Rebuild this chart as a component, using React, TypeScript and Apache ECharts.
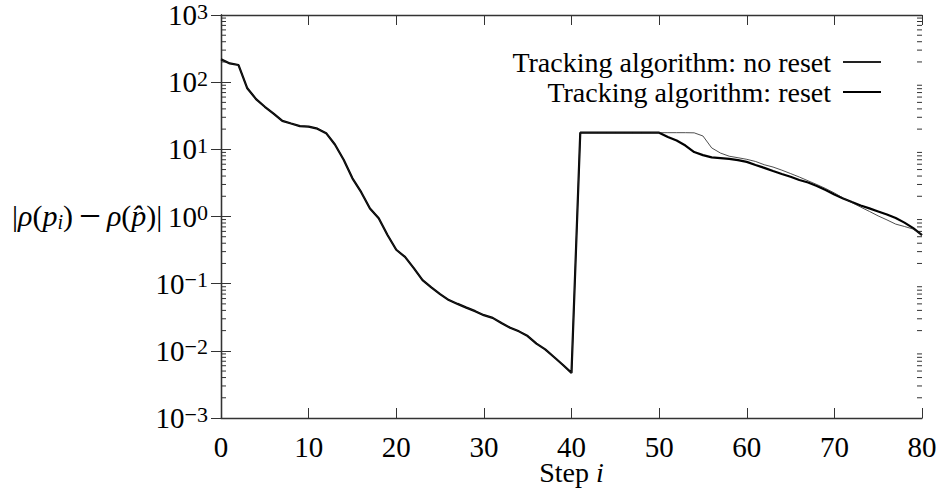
import React, { useEffect, useRef } from "react";
import * as echarts from "echarts";

const FONT = "Liberation Serif";

// Step index 0..80
const steps: number[] = Array.from({ length: 81 }, (_, i) => i);

// Shared part of both runs (steps 0..49)
const commonVals: number[] = [
  219, 190, 180, 81, 56, 43, 34, 26.5, 24.2, 22.2,
  21.8, 20.3, 17.4, 11.8, 7.0, 3.7, 2.3, 1.32, 0.94, 0.53,
  0.32, 0.25, 0.17, 0.113, 0.088, 0.07, 0.057, 0.05, 0.044, 0.039,
  0.034, 0.031, 0.026, 0.022, 0.0195, 0.0166, 0.0128, 0.0105, 0.0081, 0.0062,
  0.0047, 17.7, 17.7, 17.7, 17.7, 17.7, 17.7, 17.7, 17.7, 17.7,
];

// Steps 50..80
const noResetTail: number[] = [
  17.7, 17.7, 17.7, 17.7, 17.6, 15.8, 10.5, 8.8, 7.9, 7.5,
  7.1, 6.6, 5.9, 5.45, 4.9, 4.36, 3.87, 3.4, 2.99, 2.61,
  2.24, 1.88, 1.61, 1.38, 1.19, 1.02, 0.89, 0.77, 0.71, 0.65,
  0.53,
];
const resetTail: number[] = [
  17.7, 15.3, 13.5, 11.4, 9.1, 8.2, 7.6, 7.4, 7.2, 6.9,
  6.5, 5.85, 5.3, 4.75, 4.3, 3.9, 3.5, 3.2, 2.85, 2.48,
  2.13, 1.85, 1.64, 1.46, 1.32, 1.19, 1.07, 0.95, 0.81, 0.67,
  0.53,
];

const noResetVals = [...commonVals, ...noResetTail];
const resetVals = [...commonVals, ...resetTail];

const seriesNames = ["Tracking algorithm: no reset", "Tracking algorithm: reset"];

const xTickStep = 10;
const xMin = 0;
const xMax = 80;
const yMin = 0.001;
const yMax = 1000;

// Log minor tick mantissas and decades
const minorMantissas = [2, 3, 4, 5, 6, 7, 8, 9];
const decades = [0.001, 0.01, 0.1, 1, 10, 100];

export default function App() {
  const ref = useRef<HTMLDivElement>(null);

  useEffect(() => {
    if (!ref.current) return;
    const chart = echarts.init(ref.current, undefined, { renderer: "svg" });

    const minorVals: number[][] = [];
    decades.forEach((d) => minorMantissas.forEach((m) => minorVals.push([xMin, m * d])));

    const axisLine = { show: true, lineStyle: { color: "#333", width: 1.3 } };
    const tickStyle = { color: "#333", width: 1 };

    const option: any = {
      animation: false,
      backgroundColor: "#fff",
      textStyle: { fontFamily: FONT, color: "#000" },
      grid: {
        left: 221,
        right: 16,
        top: 15,
        bottom: 74,
        containLabel: false,
        outerBoundsMode: "none",
      },
      legend: {
        orient: "vertical",
        right: 56,
        top: 48,
        padding: 0,
        align: "right",
        itemWidth: 38,
        itemHeight: 14,
        itemGap: 2,
        data: seriesNames,
        itemStyle: { opacity: 0 },
        textStyle: { fontFamily: FONT, fontSize: 28, color: "#000", padding: [0, 7, 0, 0] },
        inactiveColor: "#000",
        selectedMode: false,
      },
      xAxis: [
        {
          type: "value",
          min: xMin,
          max: xMax,
          interval: xTickStep,
          position: "bottom",
          axisLine,
          axisTick: { show: true, inside: true, length: 10, lineStyle: tickStyle },
          splitLine: { show: false },
          axisLabel: {
            fontFamily: FONT,
            fontSize: 29,
            lineHeight: 24,
            color: "#000",
            margin: 17,
          },
          name: "{n|Step }{it|i}",
          nameLocation: "middle",
          nameGap: 42,
          nameMoveOverlap: false,
          nameTextStyle: {
            lineHeight: 24,
            rich: {
              n: { fontFamily: FONT, fontSize: 28, lineHeight: 24, color: "#000" },
              it: { fontFamily: FONT, fontSize: 28, lineHeight: 24, fontStyle: "italic", color: "#000" },
            },
          },
        },
        {
          type: "value",
          min: xMin,
          max: xMax,
          interval: xTickStep,
          position: "top",
          axisLine,
          axisTick: { show: true, inside: true, length: 10, lineStyle: tickStyle },
          splitLine: { show: false },
          axisLabel: { show: false },
        },
      ],
      yAxis: [
        {
          type: "log",
          logBase: 10,
          min: yMin,
          max: yMax,
          position: "left",
          axisLine,
          axisTick: { show: true, inside: true, length: 10, lineStyle: tickStyle },
          splitLine: { show: false },
          minorTick: { show: false },
          axisLabel: {
            margin: 13,
            formatter: (v: number) => {
              const e = Math.round(Math.log10(v));
              const s = e < 0 ? "\u2212" + -e : String(e);
              return "{b|10}{s|" + s + "}";
            },
            rich: {
              b: { fontFamily: FONT, fontSize: 29, lineHeight: 30, color: "#000" },
              s: { fontFamily: FONT, fontSize: 22, lineHeight: 24, verticalAlign: "top", color: "#000" },
            },
          },
        },
        {
          type: "log",
          logBase: 10,
          min: yMin,
          max: yMax,
          position: "right",
          axisLine,
          axisTick: { show: true, inside: true, length: 10, lineStyle: tickStyle },
          splitLine: { show: false },
          axisLabel: { show: false },
        },
      ],
      graphic: [
        {
          type: "text",
          x: 12,
          y: 215,
          style: {
            text: "|{it|\u03c1}({it|p}{sub|i})\u2009{m|\u2212}\u2009{it|\u03c1}({it|p\u0302})|",
            fontFamily: FONT,
            fontSize: 30,
            lineHeight: 34,
            fill: "#000",
            verticalAlign: "middle",
            align: "left",
            rich: {
              it: { fontFamily: FONT, fontSize: 30, fontStyle: "italic", lineHeight: 34 },
              m: { fontFamily: FONT, fontSize: 39, lineHeight: 34 },
              sub: { fontFamily: FONT, fontSize: 20, fontStyle: "italic", lineHeight: 20, verticalAlign: "bottom" },
            },
          },
        },
      ],
      series: [
        {
          name: seriesNames[0],
          type: "line",
          xAxisIndex: 0,
          yAxisIndex: 0,
          data: steps.map((s, i) => [s, noResetVals[i]]),
          symbol: "none",
          lineStyle: { color: "#222", width: 0.8 },
          itemStyle: { color: "#222" },
          z: 3,
        },
        {
          name: seriesNames[1],
          type: "line",
          xAxisIndex: 0,
          yAxisIndex: 0,
          data: steps.map((s, i) => [s, resetVals[i]]),
          symbol: "none",
          lineStyle: { color: "#000", width: 2.2 },
          itemStyle: { color: "#000" },
          z: 2,
        },
        {
          name: "minorTicks",
          type: "custom",
          xAxisIndex: 0,
          yAxisIndex: 0,
          silent: true,
          clip: false,
          data: minorVals,
          encode: { x: 0, y: 1 },
          renderItem: (_p: any, api: any) => {
            const v = api.value(1);
            const pl = api.coord([xMin, v]);
            const pr = api.coord([xMax, v]);
            return {
              type: "group",
              children: [
                { type: "line", shape: { x1: pl[0], y1: pl[1], x2: pl[0] + 5, y2: pl[1] }, style: { stroke: "#333", lineWidth: 1 } },
                { type: "line", shape: { x1: pr[0], y1: pr[1], x2: pr[0] - 5, y2: pr[1] }, style: { stroke: "#333", lineWidth: 1 } },
              ],
            };
          },
        },
      ],
    };

    chart.setOption(option);
    return () => chart.dispose();
  }, []);

  return (
    <div
      ref={ref}
      style={{ position: "fixed", left: 0, top: 0, width: 938, height: 492, background: "#fff" }}
    />
  );
}
